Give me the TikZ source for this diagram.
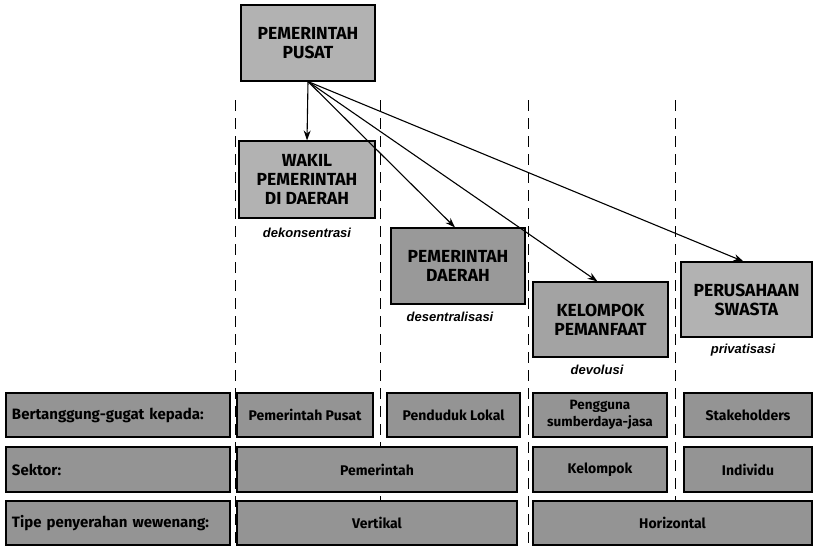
\documentclass[tikz,border=0pt]{standalone}
\usepackage{fontspec}
\setmainfont{Fira Sans}
\newfontfamily\labfont{Liberation Sans}
\usetikzlibrary{arrows.meta}
\begin{document}
\begin{tikzpicture}[x=1pt,y=-1pt,
  topbox/.style={draw=black,line width=1.1pt,fill=black!30,inner sep=0pt,align=center,
    font=\fontsize{17.5}{19}\selectfont\bfseries},
  rowbox/.style={draw=black,line width=1.1pt,fill=black!42,inner sep=0pt,align=center,
    minimum height=44pt,font=\fontsize{14}{16}\selectfont\bfseries},
  labbox/.style={rowbox,minimum width=224pt,text width=212pt,align=left,
    font=\fontsize{15}{16}\selectfont\bfseries},
  modetext/.style={font=\labfont\fontsize{13}{15}\selectfont\bfseries\itshape},
  sep/.style={line width=1pt,dash pattern=on 11pt off 7pt},
  arr/.style={line width=1.1pt,-{Stealth[length=10pt,width=7pt]}}]
\useasboundingbox (0,0) rectangle (813,546);
% separators
\foreach \x/\n in {235/a,380/b,528/c,675/d}{
  \coordinate (s\n1) at (\x,100);
  \coordinate (s\n2) at (\x,546);
  \draw[sep] (s\n1) -- (s\n2);
}
% top boxes
\node[topbox,minimum width=134pt,minimum height=76pt] (pusat) at (308,43) {PEMERINTAH\\PUSAT};
\node[topbox,minimum width=136pt,minimum height=77pt] (wakil) at (307,179.5) {WAKIL\\PEMERINTAH\\DI DAERAH};
\node[topbox,fill=black!40,minimum width=134pt,minimum height=76pt] (daerah) at (458,266) {PEMERINTAH\\DAERAH};
\node[topbox,fill=black!36,minimum width=135pt,minimum height=75pt] (kelompok) at (600.5,319.5) {KELOMPOK\\PEMANFAAT};
\node[topbox,minimum width=131pt,minimum height=75pt] (swasta) at (746.5,299.5) {PERUSAHAAN\\SWASTA};
% arrows
\draw[arr] (pusat.south) -- (wakil.north);
\draw[arr] (pusat.south) -- ([xshift=-3pt]daerah.north);
\draw[arr] (pusat.south) -- ([xshift=-3pt]kelompok.north);
\draw[arr] (pusat.south) -- ([xshift=-3pt]swasta.north);
% mode labels
\node[modetext] (m1) at (307,233) {dekonsentrasi};
\node[modetext] (m2) at (450,317) {desentralisasi};
\node[modetext] (m3) at (597,370) {devolusi};
\node[modetext] (m4) at (743,350) {privatisasi};
% row 1
\node[labbox] (l1) at (118,415) {Bertanggung-gugat kepada:};
\node[rowbox,minimum width=136pt] (pp) at (305,415) {Pemerintah Pusat};
\node[rowbox,minimum width=133pt] (pl) at (453.5,415) {Penduduk Lokal};
\node[rowbox,minimum width=134pt,font=\fontsize{13.5}{17}\selectfont\bfseries] (pg) at (600,415) {Pengguna\\sumberdaya-jasa};
\node[rowbox,minimum width=128pt] (st) at (748,415) {Stakeholders};
% row 2
\node[labbox,minimum height=45pt] (l2) at (118,469.5) {Sektor:};
\node[rowbox,minimum width=280pt,minimum height=45pt] (pem) at (377,469.5) {Pemerintah};
\node[rowbox,minimum width=134pt,minimum height=45pt] (kel) at (600,469.5) {Kelompok};
\node[rowbox,minimum width=128pt,minimum height=45pt] (ind) at (748,469.5) {Individu};
% row 3
\node[labbox] (l3) at (118,523) {Tipe penyerahan wewenang:};
\node[rowbox,minimum width=280pt] (ver) at (377,523) {Vertikal};
\node[rowbox,minimum width=279pt] (hor) at (672.5,523) {Horizontal};
\end{tikzpicture}
\end{document}
